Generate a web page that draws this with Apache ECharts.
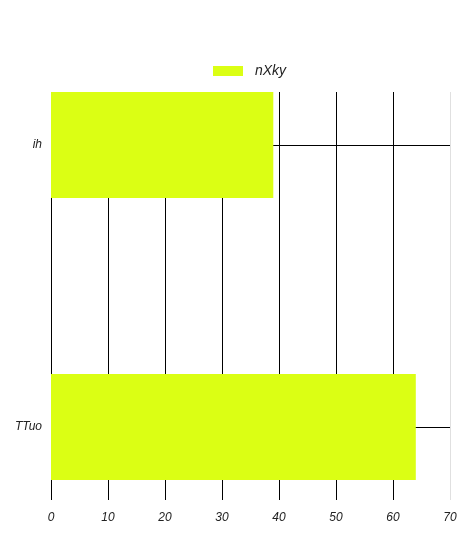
<!DOCTYPE html>
<html>
<head>
<meta charset="utf-8">
<script src="https://cdn.jsdelivr.net/npm/echarts@6/dist/echarts.min.js"></script>
<style>html,body{margin:0;padding:0;background:#fff;}#c{width:469px;height:536px;}</style>
</head>
<body>
<div id="c"></div>
<script>
var categories = ['TTuo', 'ih'];
var seriesName = 'nXky';
var values = [64, 39];
var xTicks = [0, 10, 20, 30, 40, 50, 60, 70];

var font = 'Liberation Sans, Arial, sans-serif';
var chart = echarts.init(document.getElementById('c'), null, {renderer: 'canvas'});
var lineColors = xTicks.map(function (t, i) { return i === xTicks.length - 1 ? '#e0e0e0' : '#000'; });
chart.setOption({
  animation: false,
  backgroundColor: '#fff',
  legend: {
    data: [seriesName],
    left: 208,
    top: 59,
    itemWidth: 30,
    itemHeight: 10,
    icon: 'rect',
    textStyle: {fontFamily: font, fontStyle: 'italic', fontSize: 14, color: '#222', padding: [0, 0, 0, 7]}
  },
  grid: [
    {left: 51, right: 19, top: 92, bottom: 36},
    {left: 51, right: 19, top: 145, bottom: 109}
  ],
  xAxis: [
    {
      gridIndex: 0, type: 'value', min: xTicks[0], max: xTicks[xTicks.length - 1], interval: 10,
      axisLine: {show: false}, axisTick: {show: false},
      splitLine: {show: true, lineStyle: {color: lineColors, width: 1}},
      axisLabel: {fontFamily: font, fontStyle: 'italic', fontSize: 12, color: '#222', margin: 12}
    },
    {
      gridIndex: 1, type: 'value', min: xTicks[0], max: xTicks[xTicks.length - 1], interval: 10,
      show: false, splitLine: {show: false}
    }
  ],
  yAxis: [
    {gridIndex: 0, type: 'value', show: false, splitLine: {show: false}},
    {
      gridIndex: 1, type: 'category', data: categories, boundaryGap: false,
      axisLine: {show: false}, axisTick: {show: false},
      splitLine: {show: true, lineStyle: {color: '#000', width: 1}},
      axisLabel: {fontFamily: font, fontStyle: 'italic', fontSize: 12, color: '#222', margin: 9}
    }
  ],
  series: [{
    name: seriesName,
    type: 'bar',
    xAxisIndex: 1,
    yAxisIndex: 1,
    data: values,
    barWidth: 106,
    clip: false,
    itemStyle: {color: '#dbff14'},
    z: 5
  }]
});
</script>
</body>
</html>
